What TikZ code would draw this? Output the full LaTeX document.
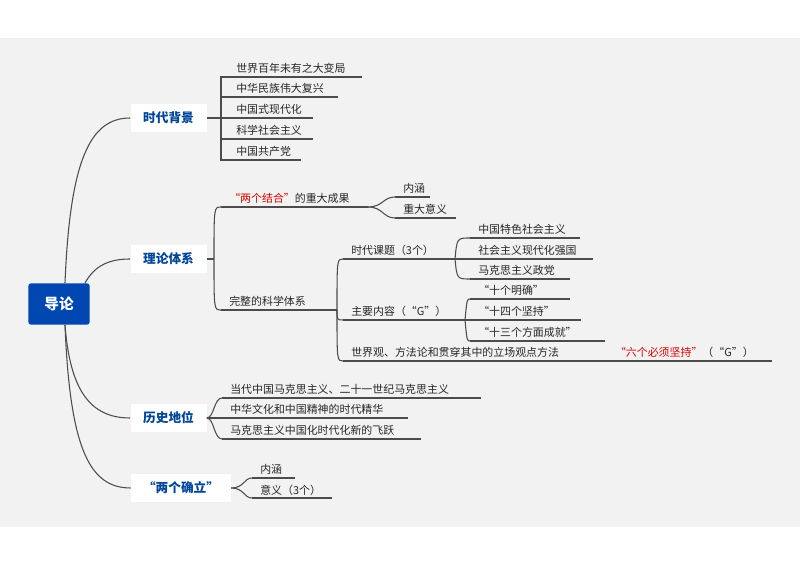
\documentclass[tikz,border=0pt]{standalone}
\usepackage{fontspec}
\setmainfont{Noto Sans CJK SC}
\begin{document}
\begin{tikzpicture}[x=0.75pt,y=-0.75pt,
  ln/.style={draw=black!70,line width=0.8pt},
  leaf/.style={anchor=base west,inner sep=0pt,font=\fontsize{8.2}{10}\selectfont,text=black!85},
  topic/.style={fill=white,minimum height=21pt,inner sep=4pt,text=blue!55!cyan!60!black,font=\fontsize{9.5}{11}\bfseries\selectfont},
  red/.style={text=red!85!black}]
\useasboundingbox (0,0) rectangle (800,566);
\fill[white] (0,0) rectangle (800,566);
\fill[black!5] (0,38) rectangle (800,527);
% root
\node[fill=blue!60!cyan!70!black,rounded corners=2pt,minimum width=46pt,minimum height=31pt,text=white,font=\fontsize{11}{13}\bfseries\selectfont] (root) at (59,304) {导论};
% topics
\node[topic,minimum width=57pt] (t1) at (168.5,118) {时代背景};
\node[topic,minimum width=57pt] (t2) at (168.5,259) {理论体系};
\node[topic,minimum width=57pt] (t3) at (168.5,418) {历史地位};
\node[topic,minimum width=75pt] (t4) at (181,488) {“两个确立”};
\draw[ln] (65,283) .. controls (70,160) and (90,118) .. (t1.west);
\draw[ln] (85,283) .. controls (95,265) and (110,259) .. (t2.west);
\draw[ln] (65,325) .. controls (70,390) and (90,418) .. (t3.west);
\draw[ln] (65,325) .. controls (70,450) and (90,488) .. (t4.west);
% helper: \lf{name}{x}{y}{xend}{text}
\newcommand\lf[5]{\coordinate (#1) at (#2,#3);\node[leaf] (#1t) at (#2+8,#3-4) {#5};\draw[ln] (#1) -- (#4,#3);}
\newcommand\br[2]{\draw[ln] (#1) .. controls ($(#1)+(14,0)$) and ($(#2)+(-14,0)$) .. (#2);}
% t1 children
\lf{a1}{228}{77}{362}{世界百年未有之大变局}
\lf{a2}{228}{97}{338}{中华民族伟大复兴}
\lf{a3}{228}{118}{313}{中国式现代化}
\lf{a4}{228}{139}{313}{科学社会主义}
\lf{a5}{228}{160}{301}{中国共产党}
\foreach \c in {a1,a2,a4,a5} {\draw[ln] (t1.east) .. controls (221,118) and (221,118) .. (221,118) |- ([xshift=0pt]\c);}
\draw[ln] (t1.east) -- (a3);
% t2 children
\lf{b1}{221}{207}{368}{\textcolor{red!85!black}{“两个结合”}的重大成果}
\lf{b2}{221}{310}{337}{完整的科学体系}
\draw[ln] (t2.east) -- (214,259);
\draw[ln] (214,259) .. controls (214,207) .. (b1);
\draw[ln] (214,259) .. controls (214,310) .. (b2);
\lf{c1}{395}{197}{430}{内涵}
\lf{c2}{395}{218}{456}{重大意义}
\draw[ln] (368,207) .. controls (383,207) and (383,197) .. (c1);
\draw[ln] (368,207) .. controls (383,207) and (383,218) .. (c2);
\lf{d1}{343}{259}{455}{时代课题（3个）}
\lf{d2}{343}{320}{465}{主要内容（“G”）}
\lf{d3}{343}{361}{772}{世界观、方法论和贯穿其中的立场观点方法\hspace{42pt}\textcolor{red!85!black}{“六个必须坚持”}（“G”）}
\draw[ln] (337,310) .. controls (337,259) .. (d1);
\draw[ln] (337,310) .. controls (337,320) .. (d2);
\draw[ln] (337,310) .. controls (337,361) .. (d3);
\lf{e1}{470}{238}{580}{中国特色社会主义}
\lf{e2}{470}{259}{593}{社会主义现代化强国}
\lf{e3}{470}{279}{570}{马克思主义政党}
\draw[ln] (455,259) .. controls (457,238) .. (e1);
\draw[ln] (455,259) -- (e2);
\draw[ln] (455,259) .. controls (457,279) .. (e3);
\lf{f1}{470}{299}{570}{“十个明确”}
\lf{f2}{470}{320}{581}{“十四个坚持”}
\lf{f3}{470}{341}{605}{“十三个方面成就”}
\draw[ln] (465,320) .. controls (467,299) .. (f1);
\draw[ln] (465,320) -- (f2);
\draw[ln] (465,320) .. controls (467,341) .. (f3);
% t3 children
\lf{g1}{222}{398}{481}{当代中国马克思主义、二十一世纪马克思主义}
\lf{g2}{222}{418}{408}{中华文化和中国精神的时代精华}
\lf{g3}{222}{439}{421}{马克思主义中国化时代化新的飞跃}
\draw[ln] (t3.east) .. controls (214,418) and (214,398) .. (g1);
\draw[ln] (t3.east) -- (g2);
\draw[ln] (t3.east) .. controls (214,418) and (214,439) .. (g3);
% t4 children
\lf{h1}{252}{478}{295}{内涵}
\lf{h2}{252}{498}{332}{意义（3个）}
\draw[ln] (t4.east) .. controls (244,488) and (244,478) .. (h1);
\draw[ln] (t4.east) .. controls (244,488) and (244,498) .. (h2);
\end{tikzpicture}
\end{document}
